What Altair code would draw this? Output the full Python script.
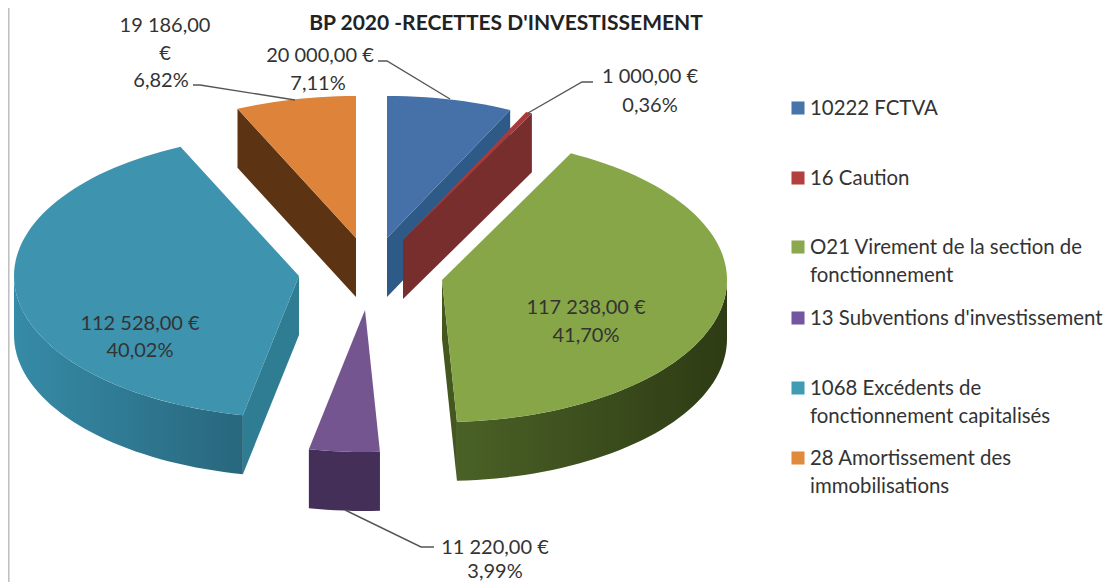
import math
import altair as alt
import pandas as pd

# ---- chart values, as printed on the picture
categories = ["10222 FCTVA", "16 Caution", "O21 Virement de la section de fonctionnement",
              "13 Subventions d'investissement", "1068 Excédents de fonctionnement capitalisés",
              "28 Amortissement des immobilisations"]
amounts = [20000.00, 1000.00, 117238.00, 11220.00, 112528.00, 19186.00]
title_text = "BP 2020 -RECETTES D'INVESTISSEMENT"

# legend rows: (lines of text, colour key)
legend_lines = [["10222 FCTVA"], ["16 Caution"], ["O21 Virement de la section de", "fonctionnement"],
                ["13 Subventions d'investissement"], ["1068 Excédents de", "fonctionnement capitalisés"],
                ["28 Amortissement des", "immobilisations"]]
legend_y = [108, 178, 247, 318, 388, 458]
LINE = 28

top_col = ["#4571a8", "#a93a3a", "#86a648", "#75558f", "#3e93ae", "#dd843a"]
wall_col = ["#2e5a88", "#772e2d", "#43571f", "#432f58", "#2f7d93", "#5c3413"]
swatch_col = ["#4674ab", "#b43f3f", "#8aa94e", "#7356a0", "#3f9cb3", "#e08a3c"]

# exploded position of each slice's apex
centers = [(387, 238), (403, 240), (442, 280), (365, 310), (299, 276), (356, 238)]
RX, RY, DEPTH = 285, 142, 59
paint_order = [5, 4, 0, 1, 2, 3]

X = alt.X("x:Q", scale=alt.Scale(domain=[8, 1106], range=[0, 1098]), axis=None)
Y = alt.Y("y:Q", scale=alt.Scale(domain=[8, 582], range=[0, 574]), axis=None)


def polygon(points, fill):
    df = pd.DataFrame({"x": [p[0] for p in points], "y": [p[1] for p in points],
                       "i": list(range(len(points)))})
    return alt.Chart(df).mark_line(interpolate="linear-closed", fill=fill, stroke=None,
                                   strokeWidth=0).encode(x=X, y=Y, order="i:Q")


def grad(c0, c1):
    return alt.LinearGradient(gradient="linear", x1=0, x2=1, y1=0, y2=0,
                              stops=[alt.GradientStop(color=c0, offset=0),
                                     alt.GradientStop(color=c1, offset=1)])


total = sum(amounts)
edges = [0.0]
for a in amounts:
    edges.append(edges[-1] + 360.0 * a / total)


def pt(c, t, dz=0.0):
    r = math.radians(t)
    return (c[0] + RX * math.sin(r), c[1] - RY * math.cos(r) + dz)


def arc(c, t0, t1, dz=0.0):
    n = max(2, int((t1 - t0) / 2) + 1)
    return [pt(c, t0 + (t1 - t0) * k / n, dz) for k in range(n + 1)]


layers = [alt.Chart(pd.DataFrame({"x": [8.8, 8.8], "y": [8, 582]})).mark_line(
    color="#bdbdbd", strokeWidth=1.5).encode(x=X, y=Y)]

rim_fill = {2: grad("#4a6126", "#2e3b14"), 3: wall_col[3], 4: grad("#368ba7", "#28677d")}

for s in paint_order:
    c, t0, t1 = centers[s], edges[s], edges[s + 1]
    if math.sin(math.radians(t0)) < -1e-6:          # start cut faces the viewer
        p = pt(c, t0)
        layers.append(polygon([c, p, (p[0], p[1] + DEPTH), (c[0], c[1] + DEPTH)], wall_col[s]))
    if math.sin(math.radians(t1)) > 1e-6:           # end cut faces the viewer
        p = pt(c, t1)
        layers.append(polygon([c, p, (p[0], p[1] + DEPTH), (c[0], c[1] + DEPTH)], wall_col[s]))
    a0, a1 = max(t0, 90), min(t1, 270)
    if a1 > a0:                                     # front rim
        layers.append(polygon(arc(c, a0, a1) + arc(c, a0, a1, DEPTH)[::-1], rim_fill[s]))
    layers.append(polygon([c] + arc(c, t0, t1), top_col[s]))

# leader lines
leaders = [[(193, 85), (200, 85), (295, 100)],
           [(378, 61), (387, 61), (450, 99)],
           [(593, 82), (582, 82), (528, 113)],
           [(345, 510), (421, 547), (434, 547)]]
for pts in leaders:
    df = pd.DataFrame({"x": [p[0] for p in pts], "y": [p[1] for p in pts], "i": range(len(pts))})
    layers.append(alt.Chart(df).mark_line(color="#555555", strokeWidth=1.4).encode(x=X, y=Y, order="i:Q"))

# data labels
labels = [("19 186,00", 165, 26), ("€", 165, 54), ("6,82%", 161, 81),
          ("20 000,00 €", 320, 56), ("7,11%", 318, 84),
          ("1 000,00 €", 650, 77), ("0,36%", 650, 106),
          ("117 238,00 €", 586, 308), ("41,70%", 586, 336),
          ("112 528,00 €", 140, 324), ("40,02%", 140, 351),
          ("11 220,00 €", 495, 548), ("3,99%", 495, 572)]
FONT = "Lato"
df = pd.DataFrame({"t": [l[0] for l in labels], "x": [l[1] for l in labels], "y": [l[2] for l in labels]})
layers.append(alt.Chart(df).mark_text(font=FONT, fontSize=20, color="#333333", align="center",
                                      baseline="middle").encode(x=X, y=Y, text="t:N"))

# legend
sw = pd.DataFrame({"x": [798] * 6, "y": legend_y, "c": swatch_col})
layers.append(alt.Chart(sw).mark_square(size=170, opacity=1, filled=True).encode(
    x=X, y=Y, color=alt.Color("c:N", scale=None)))
rows = []
for ls, y in zip(legend_lines, legend_y):
    for k, l in enumerate(ls):
        rows.append({"t": l, "x": 810, "y": y + 1 + k * LINE})
layers.append(alt.Chart(pd.DataFrame(rows)).mark_text(font=FONT, fontSize=20.4, color="#333333", align="left",
                                                      baseline="middle").encode(x=X, y=Y, text="t:N"))

# title
layers.append(alt.Chart(pd.DataFrame({"t": [title_text], "x": [506], "y": [24]})).mark_text(
    font=FONT, fontSize=21, fontWeight="bold", color="#222222", align="center", baseline="middle"
).encode(x=X, y=Y, text="t:N"))

chart = alt.layer(*layers).properties(width=1098, height=574, padding=0,
                                      autosize=alt.AutoSizeParams(type="none")).configure_view(stroke=None)
chart.save("out.html", embed_options={"renderer": "svg", "actions": False})
